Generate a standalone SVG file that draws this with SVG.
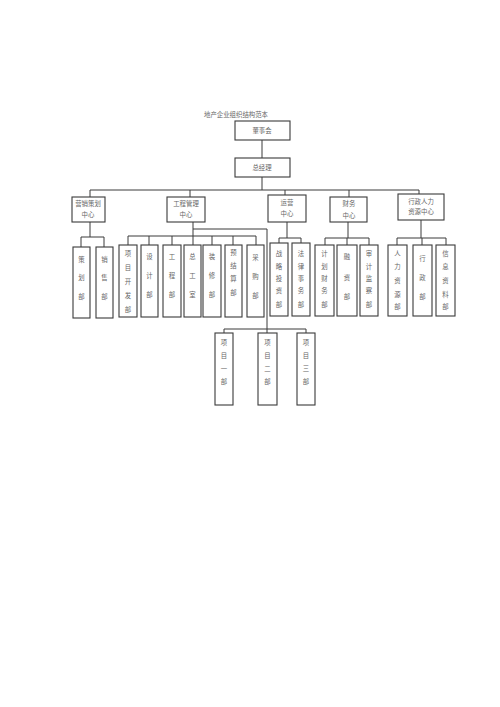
<svg xmlns="http://www.w3.org/2000/svg" width="500" height="707" viewBox="0 0 500 707">
<style>
.b{fill:#fff;stroke:#3a3a3a;stroke-width:1.1}
.t{font-family:"Noto Sans CJK SC","Liberation Serif",serif;font-size:6.4px;fill:#666;text-anchor:middle}
.c{fill:none;stroke:#3a3a3a;stroke-width:1}
</style>
<rect width="500" height="707" fill="#fff"/>
<text class="t" x="236" y="117">地产企业组织结构范本</text>
<g id="connectors">
<path class="c" d="M262 140V158M262 177V190M90 190H419M90 190V197M190 190V197M285 190V195M349 190V197M419 190V194"/>
<path class="c" d="M90 222V237M81 237H104M81 237V247M104 237V247"/>
<path class="c" d="M193 222V236M128 236H256M128 236V245M149 236V245M172 236V245M193 236V245M212 236V245M233 236V245M256 236V245"/>
<path class="c" d="M193 229H267V329M224 329H306M224 329V333M267 329V333M306 329V333"/>
<path class="c" d="M287 222V238M279 238H301M279 238V243M301 238V243"/>
<path class="c" d="M348 222V238M325 238H369M325 238V245M347 238V245M369 238V245"/>
<path class="c" d="M421 220V238M397 238H446M397 238V245M422 238V245M446 238V245"/>
</g>
<g id="n-board"><rect class="b" x="235" y="121" width="55" height="19"/><text class="t" x="262" y="133">董事会</text></g>
<g id="n-gm"><rect class="b" x="235" y="158" width="55" height="19"/><text class="t" x="262" y="170">总经理</text></g>
<g id="n-mkt"><rect class="b" x="72" y="197" width="33" height="25"/><text class="t" x="88" y="206">营销策划</text><text class="t" x="88" y="217">中心</text></g>
<g id="n-eng"><rect class="b" x="167" y="197" width="38" height="25"/><text class="t" x="186" y="206">工程管理</text><text class="t" x="186" y="217">中心</text></g>
<g id="n-ops"><rect class="b" x="268" y="195" width="38" height="27"/><text class="t" x="287" y="205">运营</text><text class="t" x="287" y="216">中心</text></g>
<g id="n-fin"><rect class="b" x="330" y="197" width="37" height="25"/><text class="t" x="349" y="206">财务</text><text class="t" x="349" y="218">中心</text></g>
<g id="n-hr"><rect class="b" x="398" y="194" width="46" height="26"/><text class="t" x="421" y="204">行政人力</text><text class="t" x="421" y="214">资源中心</text></g>
<g id="n-chj"><rect class="b" x="73" y="247" width="17" height="71"/><text class="t" x="81.5" y="262">策</text><text class="t" x="81.5" y="280">划</text><text class="t" x="81.5" y="299">部</text></g>
<g id="n-xs"><rect class="b" x="96" y="247" width="17" height="71"/><text class="t" x="104.5" y="262">销</text><text class="t" x="104.5" y="280">售</text><text class="t" x="104.5" y="299">部</text></g>
<g id="n-xmkf"><rect class="b" x="119" y="245" width="18" height="72" stroke-width="1.5"/><text class="t" x="128" y="256">项</text><text class="t" x="128" y="270">目</text><text class="t" x="128" y="284">开</text><text class="t" x="128" y="298">发</text><text class="t" x="128" y="312">部</text></g>
<g id="n-sj"><rect class="b" x="141" y="245" width="17" height="72"/><text class="t" x="149.5" y="259">设</text><text class="t" x="149.5" y="278">计</text><text class="t" x="149.5" y="297">部</text></g>
<g id="n-gc"><rect class="b" x="163" y="245" width="18" height="72"/><text class="t" x="172" y="259">工</text><text class="t" x="172" y="278">程</text><text class="t" x="172" y="297">部</text></g>
<g id="n-zgs"><rect class="b" x="184" y="245" width="17" height="72"/><text class="t" x="192.5" y="259">总</text><text class="t" x="192.5" y="278">工</text><text class="t" x="192.5" y="297">室</text></g>
<g id="n-zx"><rect class="b" x="203" y="245" width="18" height="72"/><text class="t" x="212" y="259">装</text><text class="t" x="212" y="278">修</text><text class="t" x="212" y="297">部</text></g>
<g id="n-yjs"><rect class="b" x="225" y="245" width="17" height="72"/><text class="t" x="233.5" y="255">预</text><text class="t" x="233.5" y="268">结</text><text class="t" x="233.5" y="281">算</text><text class="t" x="233.5" y="295">部</text></g>
<g id="n-cg"><rect class="b" x="247" y="245" width="17" height="72"/><text class="t" x="255.5" y="260">采</text><text class="t" x="255.5" y="279">购</text><text class="t" x="255.5" y="298">部</text></g>
<g id="n-zltz"><rect class="b" x="270" y="243" width="18" height="73"/><text class="t" x="279" y="256">战</text><text class="t" x="279" y="269">略</text><text class="t" x="279" y="281">投</text><text class="t" x="279" y="293">资</text><text class="t" x="279" y="307">部</text></g>
<g id="n-flsw"><rect class="b" x="292" y="243" width="18" height="73"/><text class="t" x="301" y="256">法</text><text class="t" x="301" y="269">律</text><text class="t" x="301" y="281">事</text><text class="t" x="301" y="293">务</text><text class="t" x="301" y="307">部</text></g>
<g id="n-jhcw"><rect class="b" x="315" y="245" width="19" height="71"/><text class="t" x="324.5" y="256">计</text><text class="t" x="324.5" y="269">划</text><text class="t" x="324.5" y="281">财</text><text class="t" x="324.5" y="293">务</text><text class="t" x="324.5" y="307">部</text></g>
<g id="n-rz"><rect class="b" x="337" y="245" width="20" height="71"/><text class="t" x="347" y="259">融</text><text class="t" x="347" y="280">资</text><text class="t" x="347" y="299">部</text></g>
<g id="n-sjjc"><rect class="b" x="360" y="245" width="18" height="71"/><text class="t" x="369" y="256">审</text><text class="t" x="369" y="269">计</text><text class="t" x="369" y="281">监</text><text class="t" x="369" y="293">察</text><text class="t" x="369" y="307">部</text></g>
<g id="n-rlzy"><rect class="b" x="388" y="245" width="19" height="71"/><text class="t" x="397.5" y="256">人</text><text class="t" x="397.5" y="269">力</text><text class="t" x="397.5" y="283">资</text><text class="t" x="397.5" y="297">源</text><text class="t" x="397.5" y="309">部</text></g>
<g id="n-xz"><rect class="b" x="413" y="245" width="19" height="71"/><text class="t" x="422.5" y="261">行</text><text class="t" x="422.5" y="280">政</text><text class="t" x="422.5" y="299">部</text></g>
<g id="n-xxzl"><rect class="b" x="436" y="245" width="19" height="71"/><text class="t" x="445.5" y="256">信</text><text class="t" x="445.5" y="269">息</text><text class="t" x="445.5" y="283">资</text><text class="t" x="445.5" y="297">料</text><text class="t" x="445.5" y="309">部</text></g>
<g id="n-xm1"><rect class="b" x="215" y="333" width="18" height="72"/><text class="t" x="224" y="345">项</text><text class="t" x="224" y="358">目</text><text class="t" x="224" y="371">一</text><text class="t" x="224" y="384">部</text></g>
<g id="n-xm2"><rect class="b" x="258" y="333" width="19" height="72"/><text class="t" x="267.5" y="345">项</text><text class="t" x="267.5" y="358">目</text><text class="t" x="267.5" y="371">二</text><text class="t" x="267.5" y="384">部</text></g>
<g id="n-xm3"><rect class="b" x="297" y="333" width="18" height="72" stroke-width="1.4"/><text class="t" x="306" y="345">项</text><text class="t" x="306" y="358">目</text><text class="t" x="306" y="371">三</text><text class="t" x="306" y="384">部</text></g>
</svg>
